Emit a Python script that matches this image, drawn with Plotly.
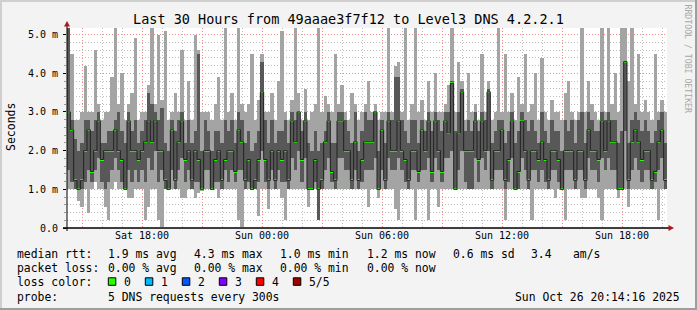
import plotly.graph_objects as go
from datetime import datetime, timedelta

# ---------------- data (milliseconds) ----------------
TITLE = "Last 30 Hours from 49aaae3f7f12 to Level3 DNS 4.2.2.1"
START = datetime(2025, 10, 25, 14, 15)
STEP_MIN = 10
HOURS = 30

ping_min = [
    1.0, 1.0, 1.0, 0.7, 0.55, 1.0, 0.4, 1.0, 1.2, 1.0, 1.0, 0.55, 0.2, 1.0, 1.2,
    1.0, 1.0, 1.0, 0.77, 0.77, 1.0, 1.0, 1.0, 0.2, 0.55, 1.0, 1.0, 0.2, 0.03, 1.0,
    1.0, 1.0, 1.0, 1.0, 0.77, 0.77, 1.0, 1.0, 0.77, 0.9, 0.95, 1.0, 1.0, 1.0, 1.0,
    0.77, 1.0, 1.0, 1.0, 1.0, 1.0, 0.2, 0.03, 1.0, 1.0, 1.0, 1.0, 0.3, 1.0, 1.0,
    0.5, 1.0, 1.0, 1.0, 0.77, 0.2, 1.0, 1.0, 1.0, 1.0, 1.0, 1.0, 0.55, 1.0, 1.0,
    0.2, 1.0, 1.0, 1.0, 1.0, 1.0, 1.0, 1.0, 1.0, 1.0, 1.0, 1.0, 1.0, 1.0, 1.0,
    0.55, 1.0, 1.0, 0.77, 1.0, 1.0, 1.0, 1.0, 0.5, 0.2, 1.0, 1.0, 1.0, 1.0, 0.2,
    1.0, 1.0, 1.0, 0.2, 1.0, 1.0, 0.55, 1.0, 1.0, 1.0, 1.0, 1.0, 1.0, 1.0, 1.0,
    1.0, 1.0, 1.0, 1.0, 1.0, 1.0, 1.0, 1.0, 1.0, 1.0, 1.0, 0.2, 1.0, 1.0, 1.0,
    1.0, 1.0, 1.0, 1.0, 0.2, 1.0, 1.0, 1.0, 1.0, 1.0, 1.0, 0.77, 1.0, 1.0, 0.2,
    1.0, 1.0, 1.0, 1.0, 0.77, 0.77, 1.0, 1.0, 1.0, 0.77, 0.2, 1.0, 1.0, 1.0, 1.0,
    0.77, 1.0, 1.0, 0.55, 1.0, 1.0, 1.0, 1.0, 1.0, 1.0, 1.0, 1.0, 0.2, 1.0, 1.0,
]
ping_lo = [
    1.5, 1.2, 1.0, 1.0, 1.0, 1.2, 1.5, 1.2, 1.5, 1.8, 1.2, 1.0, 1.2, 1.5, 1.8,
    1.5, 1.2, 1.0, 1.5, 1.2, 1.5, 1.2, 1.5, 1.2, 1.8, 1.5, 2.0, 1.2, 1.5, 1.0,
    1.0, 1.5, 1.0, 1.5, 1.8, 1.2, 1.5, 1.0, 1.2, 1.2, 1.0, 1.5, 1.5, 1.0, 1.2,
    1.2, 1.0, 1.5, 1.2, 1.5, 1.2, 1.5, 1.5, 1.0, 1.2, 1.0, 1.0, 1.2, 2.0, 1.2,
    1.0, 1.5, 1.0, 1.5, 1.2, 1.2, 1.0, 1.8, 1.5, 2.0, 1.2, 1.8, 1.0, 1.0, 1.2,
    0.2, 1.0, 1.5, 1.8, 1.2, 1.0, 1.8, 1.8, 1.5, 1.5, 1.0, 1.5, 1.0, 1.2, 1.5,
    1.5, 1.5, 1.8, 1.0, 1.5, 1.0, 1.8, 1.5, 1.5, 1.8, 1.5, 1.2, 1.0, 1.5, 1.5,
    1.2, 1.5, 1.5, 1.8, 1.2, 1.8, 1.5, 1.2, 1.8, 1.8, 2.0, 1.0, 1.5, 2.0, 1.2,
    1.0, 1.0, 1.8, 1.2, 1.8, 1.5, 2.0, 1.0, 1.5, 1.5, 1.5, 1.0, 1.2, 1.8, 1.0,
    1.0, 1.8, 1.5, 1.0, 1.5, 1.5, 1.2, 1.5, 1.2, 1.0, 1.5, 1.5, 1.2, 1.0, 1.5,
    1.5, 1.5, 1.0, 1.5, 1.5, 1.0, 1.8, 1.5, 1.5, 1.2, 1.8, 1.5, 1.8, 1.5, 1.5,
    1.0, 1.0, 2.5, 1.0, 1.5, 1.8, 1.5, 1.2, 1.5, 1.5, 1.0, 1.2, 1.5, 1.8, 1.0,
]
median = [
    3.00, 2.54, 1.23, 1.00, 1.23, 2.00, 2.54, 1.46, 2.00, 2.77, 1.77, 2.00, 2.00, 2.00, 2.54,
    2.00, 1.77, 1.00, 2.77, 2.00, 2.00, 1.77, 2.00, 2.23, 2.77, 2.23, 2.77, 2.00, 2.00, 1.23,
    1.00, 2.54, 1.23, 2.23, 2.77, 1.77, 2.00, 1.23, 2.00, 1.77, 1.00, 2.00, 2.00, 1.00, 1.77,
    2.00, 1.23, 1.77, 2.00, 2.00, 1.46, 2.54, 2.23, 1.23, 1.77, 1.00, 1.23, 1.77, 3.52, 1.77,
    1.23, 2.00, 1.23, 2.00, 1.77, 2.00, 1.23, 2.77, 2.23, 3.00, 1.77, 2.77, 1.00, 1.00, 1.77,
    1.00, 1.23, 2.23, 2.77, 1.46, 1.23, 2.77, 2.77, 2.00, 2.00, 1.23, 2.23, 1.23, 1.77, 2.23,
    2.23, 2.23, 3.00, 1.00, 2.54, 1.23, 2.77, 2.00, 2.00, 2.77, 2.00, 1.77, 1.23, 2.00, 2.00,
    1.46, 2.54, 2.00, 2.77, 1.46, 2.77, 2.00, 1.46, 2.77, 2.46, 3.74, 1.00, 2.46, 3.52, 2.00,
    2.00, 2.00, 2.77, 1.77, 2.77, 2.00, 3.52, 1.23, 2.00, 2.00, 2.54, 1.23, 1.77, 2.77, 1.00,
    1.46, 2.76, 2.00, 1.23, 2.00, 2.00, 1.77, 2.23, 1.77, 1.23, 2.00, 2.00, 1.77, 1.00, 2.00,
    2.00, 2.00, 1.23, 2.00, 2.00, 1.23, 2.54, 2.00, 2.00, 1.77, 2.77, 2.00, 2.77, 2.23, 2.23,
    1.00, 1.00, 4.30, 1.23, 2.23, 2.54, 2.23, 1.77, 2.00, 2.00, 1.23, 1.46, 2.23, 2.54, 1.23,
]
ping_hi = [
    5.2, 2.8, 2.3, 2.0, 2.2, 2.8, 2.8, 2.5, 2.8, 3.0, 2.2, 2.2, 2.5, 2.5, 2.8,
    3.0, 2.5, 2.2, 3.0, 2.5, 2.8, 2.2, 2.5, 2.8, 3.5, 3.2, 3.0, 2.8, 3.1, 2.2,
    2.0, 2.8, 2.5, 2.8, 3.0, 2.2, 2.8, 2.2, 2.5, 4.5, 2.0, 2.8, 2.5, 2.0, 2.5,
    2.5, 2.2, 2.8, 2.5, 2.8, 2.2, 3.0, 2.8, 2.2, 2.5, 2.0, 2.2, 2.5, 4.3, 2.8,
    2.2, 2.8, 2.2, 2.5, 2.5, 2.8, 2.2, 3.0, 2.8, 3.0, 2.5, 3.0, 2.2, 2.0, 2.5,
    2.0, 2.2, 2.5, 3.0, 2.2, 2.2, 3.0, 3.0, 2.8, 2.5, 2.2, 3.0, 2.0, 2.5, 3.0,
    2.8, 2.8, 3.0, 2.0, 2.8, 2.2, 3.0, 2.8, 3.9, 3.9, 2.8, 2.5, 2.2, 2.8, 2.8,
    2.2, 2.8, 2.5, 3.0, 2.5, 3.0, 2.8, 2.5, 3.0, 3.0, 3.8, 2.5, 3.0, 3.6, 2.5,
    2.8, 2.5, 3.0, 2.5, 3.0, 2.8, 3.6, 2.2, 2.5, 2.8, 2.8, 2.2, 2.5, 3.0, 2.2,
    2.5, 3.0, 2.8, 2.5, 2.8, 2.5, 2.2, 3.0, 2.5, 2.2, 2.8, 2.5, 2.5, 2.0, 2.8,
    2.5, 2.8, 2.2, 2.8, 3.0, 2.2, 3.0, 2.8, 2.5, 2.5, 3.0, 2.8, 3.0, 2.8, 2.8,
    2.2, 2.5, 4.3, 2.2, 2.8, 3.0, 2.8, 2.5, 2.8, 2.5, 2.2, 2.5, 2.8, 3.0, 2.2,
]
ping_max = [
    5.3, 4.5, 2.8, 2.8, 3.0, 4.2, 3.0, 3.0, 4.6, 3.2, 2.8, 3.0, 3.0, 3.9, 5.3,
    3.2, 4.0, 2.8, 3.2, 3.5, 4.9, 2.8, 3.0, 3.0, 3.7, 5.3, 3.2, 5.0, 3.3, 5.1,
    2.8, 3.0, 3.5, 3.0, 4.6, 2.8, 3.8, 2.8, 5.0, 4.6, 3.0, 3.0, 3.0, 2.8, 3.2,
    3.9, 2.8, 5.2, 3.0, 3.5, 2.8, 5.2, 3.2, 3.0, 3.2, 4.5, 2.8, 3.3, 4.5, 3.0,
    3.0, 3.5, 2.8, 3.8, 5.1, 3.0, 2.8, 3.3, 5.2, 3.5, 2.8, 3.6, 2.8, 3.0, 3.2,
    5.2, 3.0, 3.4, 3.2, 3.0, 4.5, 3.2, 3.7, 3.0, 2.8, 3.5, 3.2, 2.8, 3.0, 3.2,
    3.8, 3.0, 3.2, 2.8, 3.0, 3.0, 5.2, 3.0, 4.2, 4.3, 3.0, 5.2, 2.8, 3.2, 5.2,
    3.0, 3.3, 2.8, 3.8, 3.0, 4.0, 3.0, 3.0, 3.2, 3.7, 5.2, 3.0, 4.3, 3.8, 2.8,
    4.0, 3.0, 3.2, 2.8, 4.5, 3.0, 3.8, 2.8, 3.0, 5.2, 3.0, 4.5, 3.0, 3.5, 2.8,
    3.9, 3.2, 4.5, 3.0, 3.2, 4.0, 2.8, 4.4, 3.0, 2.8, 3.3, 3.0, 3.0, 2.8, 3.5,
    3.8, 3.0, 2.8, 3.0, 5.2, 3.0, 3.8, 3.2, 3.0, 2.8, 5.2, 3.0, 5.2, 3.2, 4.0,
    3.0, 5.2, 5.2, 3.8, 5.2, 3.2, 4.5, 3.0, 3.3, 3.0, 2.8, 4.5, 3.0, 3.3, 3.0,
]

x_tick_vals = ["2025-10-25 15:00", "2025-10-25 18:00", "2025-10-25 21:00",
               "2025-10-26 00:00", "2025-10-26 03:00", "2025-10-26 06:00",
               "2025-10-26 09:00", "2025-10-26 12:00", "2025-10-26 15:00",
               "2025-10-26 18:00"]
x_tick_text = ["", "Sat 18:00", "", "Sun 00:00", "", "Sun 06:00", "",
               "Sun 12:00", "", "Sun 18:00"]
y_tick_vals = [0, 1, 2, 3, 4, 5]
y_tick_text = ["0.0", "1.0 m", "2.0 m", "3.0 m", "4.0 m", "5.0 m"]

legend_rtt = [("median rtt:", 16), ("1.9 ms avg", 107.3), ("4.3 ms max", 193.3),
              ("1.0 ms min", 279.3), ("1.2 ms now", 366), ("0.6 ms sd", 451.7),
              ("3.4", 530), ("am/s", 571.7)]
legend_loss = [("packet loss:", 16), ("0.00 % avg", 107.3), ("0.00 % max", 193.3),
               ("0.00 % min", 279.3), ("0.00 % now", 366)]
loss_labels = ["0", "1", "2", "3", "4", "5/5"]
loss_colors = ["#26ff00", "#00b8ff", "#0059ff", "#7e00ff", "#ff0000", "#a10000"]
probe_text = "5 DNS requests every 300s"
stamp_text = "Sun Oct 26 20:14:16 2025"

# ---------------- layout constants (pixels) ----------------
FIG_W, FIG_H = 697, 310
L, T, W, H = 67, 28, 600, 200
Y_MAX = 5.17
MONO = "DejaVu Sans Mono"


def px_x(p):
    return (p - L) / W


def px_y(p):
    return (T + H - p) / H


n = len(median)
step = timedelta(minutes=STEP_MIN)
x_mid = [START + step * (i + 0.5) for i in range(n)]
x_edge = [START + step * i for i in range(n + 1)]
bar_w = STEP_MIN * 60 * 1000
PX = Y_MAX / H

fig = go.Figure()
fig.add_trace(go.Bar(x=x_mid, base=ping_min,
                     y=[b - a for a, b in zip(ping_min, ping_max)],
                     width=bar_w, marker=dict(color="#a4a4a4", line=dict(width=0)),
                     hoverinfo="skip"))
fig.add_trace(go.Bar(x=x_mid, base=ping_lo,
                     y=[b - a for a, b in zip(ping_lo, ping_hi)],
                     width=bar_w, marker=dict(color="#585858", line=dict(width=0)),
                     hoverinfo="skip"))
fig.add_trace(go.Scatter(x=x_edge, y=median + [median[-1]], mode="lines",
                         line=dict(color="#202020", width=1, shape="hv"),
                         hoverinfo="skip"))
fig.add_trace(go.Bar(x=x_mid, base=[m - PX for m in median], y=[2 * PX] * n,
                     width=bar_w, marker=dict(color=loss_colors[0], line=dict(width=0)),
                     hoverinfo="skip"))

grid_major = "rgba(255,128,128,0.85)"
grid_minor = "rgba(170,170,170,0.75)"

fig.update_layout(
    width=FIG_W, height=FIG_H, autosize=False,
    margin=dict(l=L, r=FIG_W - L - W, t=T, b=FIG_H - T - H, pad=0),
    paper_bgcolor="#f3f3f3", plot_bgcolor="#ffffff",
    barmode="overlay", bargap=0, showlegend=False,
    font=dict(family=MONO, color="#000000"),
    xaxis=dict(type="date", range=[START, START + timedelta(hours=HOURS)],
               tickmode="array", tickvals=x_tick_vals, ticktext=x_tick_text,
               showgrid=True, gridcolor=grid_major, griddash="1px,2px", gridwidth=1,
               ticks="", ticklen=0,
               tickfont=dict(family=MONO, size=10, color="#000000"),
               minor=dict(dtick=3600000, showgrid=True, gridcolor=grid_minor,
                          griddash="1px,2px", ticks=""),
               showline=False, zeroline=False, fixedrange=True),
    yaxis=dict(range=[0, Y_MAX], tickmode="array", tickvals=y_tick_vals,
               ticktext=y_tick_text, showgrid=True, gridcolor=grid_major,
               griddash="1px,2px", gridwidth=1,
               ticks="outside", ticklen=3, tickcolor="#000000",
               ticklabelstandoff=3,
               tickfont=dict(family=MONO, size=10, color="#000000"),
               minor=dict(dtick=0.2, showgrid=True, gridcolor=grid_minor,
                          griddash="1px,2px", ticks="outside", ticklen=2,
                          tickcolor="#999999"),
               showline=False, zeroline=False, fixedrange=True),
)

shapes = []
# frame (3D shading)
shapes.append(dict(type="rect", xref="paper", yref="paper", x0=px_x(0), x1=px_x(FIG_W),
                   y0=px_y(2), y1=px_y(0), fillcolor="#cfcfcf", line=dict(width=0)))
shapes.append(dict(type="rect", xref="paper", yref="paper", x0=px_x(0), x1=px_x(2),
                   y0=px_y(FIG_H), y1=px_y(0), fillcolor="#cfcfcf", line=dict(width=0)))
shapes.append(dict(type="rect", xref="paper", yref="paper", x0=px_x(FIG_W - 2), x1=px_x(FIG_W),
                   y0=px_y(FIG_H), y1=px_y(0), fillcolor="#9e9e9e", line=dict(width=0)))
shapes.append(dict(type="rect", xref="paper", yref="paper", x0=px_x(0), x1=px_x(FIG_W),
                   y0=px_y(FIG_H), y1=px_y(FIG_H - 2), fillcolor="#9e9e9e", line=dict(width=0)))
# axis lines
shapes.append(dict(type="line", xref="paper", yref="paper", x0=px_x(63), x1=px_x(670),
                   y0=0, y1=0, line=dict(color="#000000", width=1.3), layer="above"))
shapes.append(dict(type="line", xref="paper", yref="paper", x0=0, x1=0,
                   y0=px_y(231), y1=px_y(25), line=dict(color="#000000", width=1), layer="above"))
# arrows
shapes.append(dict(type="path", xref="paper", yref="paper", layer="above",
                   path="M {},{} L {},{} L {},{} Z".format(px_x(67), px_y(21), px_x(64), px_y(26.5),
                                                          px_x(70), px_y(26.5)),
                   fillcolor="#b01818", line=dict(width=0)))
shapes.append(dict(type="path", xref="paper", yref="paper", layer="above",
                   path="M {},{} L {},{} L {},{} Z".format(px_x(674), px_y(228), px_x(668.5), px_y(225),
                                                          px_x(668.5), px_y(231)),
                   fillcolor="#b01818", line=dict(width=0)))

annotations = []


def text(s, x, y, size=11.4, anchor="left", color="#000000", angle=0):
    annotations.append(dict(text=s, xref="paper", yref="paper", x=px_x(x), y=px_y(y),
                            xanchor=anchor, yanchor="middle", showarrow=False,
                            textangle=angle, borderpad=0,
                            font=dict(family=MONO, size=size, color=color)))


text(TITLE, 348.5, 19, size=13.5, anchor="center")
text("Seconds", 10.5, 127.5, size=11.5, anchor="center", angle=-90)
text("RRDTOOL / TOBI OETIKER", 687.5, 59, size=8.2, anchor="center", color="#a8a8a8", angle=90)

for s, x in legend_rtt:
    text(s, x, 254)
for s, x in legend_loss:
    text(s, x, 268.3)
text("loss color:", 16, 282.3)
for k, (lab, col) in enumerate(zip(loss_labels, loss_colors)):
    bx = 108.3 + 37 * k
    shapes.append(dict(type="rect", xref="paper", yref="paper",
                       x0=px_x(bx), x1=px_x(bx + 7.5), y0=px_y(285.3), y1=px_y(277.8),
                       fillcolor=col, line=dict(color="#000000", width=1)))
    text(lab, bx + 15, 282.3)
text("probe:", 16, 296.7)
text(probe_text, 107.3, 296.7)
text(stamp_text, 680.5, 296.7, anchor="right")

fig.update_layout(shapes=shapes, annotations=annotations)
fig.write_html("out.html", config={"displayModeBar": False})
